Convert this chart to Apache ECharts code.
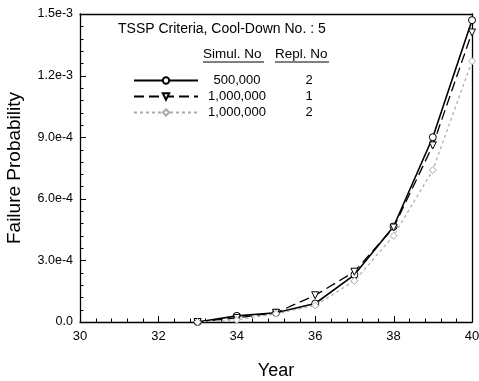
<!DOCTYPE html>
<html><head><meta charset="utf-8">
<script src="https://cdn.jsdelivr.net/npm/echarts@6/dist/echarts.min.js"></script>
<style>html,body{margin:0;padding:0;background:#fff}#c{width:479px;height:381px}</style>
</head><body><div id="c"></div>
<script>
const years = [33, 34, 35, 36, 37, 38, 39, 40];
const s1 = [0, 0.30e-4, 0.45e-4, 0.90e-4, 2.30e-4, 4.65e-4, 9.00e-4, 14.7e-4];
const s2 = [0, 0.20e-4, 0.45e-4, 1.30e-4, 2.45e-4, 4.60e-4, 8.60e-4, 14.1e-4];
const s3 = [0, 0.10e-4, 0.40e-4, 0.80e-4, 2.00e-4, 4.20e-4, 7.40e-4, 12.7e-4];
const simulNo = ['500,000', '1,000,000', '1,000,000'];
const replNo = ['2', '1', '2'];
const yTickLabels = {'0': '0.0', '0.0003': '3.0e-4', '0.0006': '6.0e-4', '0.0009': '9.0e-4', '0.0012': '1.2e-3', '0.0015': '1.5e-3'};
const names = simulNo.map((s, i) => s + ' / ' + replNo[i]);

const chart = echarts.init(document.getElementById('c'));
const FONT = 'Liberation Sans, Arial, sans-serif';
const X_MIN = 30, X_MAX = 40, X_INT = 2, Y_MIN = 0, Y_MAX = 0.0015, Y_INT = 0.0003, MINOR_SPLIT = 5;
function mk(vals) { return years.map((y, i) => [y, vals[i]]); }
const frameAxis = {
  show: true, axisLine: {show: true, onZero: false, lineStyle: {color: '#000', width: 1.3}},
  axisTick: {show: false}, minorTick: {show: false}, axisLabel: {show: false}, splitLine: {show: false}
};
const baseGraphic = [
  {type: 'text', left: 118, top: 22, style: {text: 'TSSP Criteria, Cool-Down No. : 5', font: '14px ' + FONT, fill: '#000'}},
  {type: 'text', left: 203, top: 47, style: {text: 'Simul. No', font: '13.5px ' + FONT, fill: '#000'}},
  {type: 'line', shape: {x1: 203, y1: 62, x2: 264, y2: 62}, style: {stroke: '#000', lineWidth: 1}},
  {type: 'text', left: 275, top: 47, style: {text: 'Repl. No', font: '13.5px ' + FONT, fill: '#000'}},
  {type: 'line', shape: {x1: 275, y1: 62, x2: 329, y2: 62}, style: {stroke: '#000', lineWidth: 1}}
];
chart.setOption({
  animation: false,
  textStyle: {fontFamily: FONT},
  grid: {left: 80, right: 7, top: 14, bottom: 59, show: false, outerBoundsMode: 'none', containLabel: false},
  xAxis: [{
    type: 'value', min: X_MIN, max: X_MAX, interval: X_INT, position: 'bottom',
    name: 'Year', nameLocation: 'middle', nameGap: 40,
    nameTextStyle: {fontSize: 18, color: '#000', fontFamily: FONT},
    axisLine: {show: true, onZero: false, lineStyle: {color: '#000', width: 1.3}},
    axisTick: {show: false}, minorTick: {show: false},
    axisLabel: {show: true, fontSize: 13, color: '#000', margin: 8},
    splitLine: {show: false}, minorSplitLine: {show: false}
  }, Object.assign({type: 'value', min: X_MIN, max: X_MAX, interval: X_INT, position: 'top'}, frameAxis)],
  yAxis: [{
    type: 'value', min: Y_MIN, max: Y_MAX, interval: Y_INT, position: 'left',
    name: 'Failure Probability', nameLocation: 'middle', nameGap: 56,
    nameTextStyle: {fontSize: 19, color: '#000', fontFamily: FONT},
    axisLine: {show: true, onZero: false, lineStyle: {color: '#000', width: 1.3}},
    axisTick: {show: false}, minorTick: {show: false},
    axisLabel: {show: true, fontSize: 12.5, color: '#000', margin: 7,
      formatter: v => { const k = String(+v.toPrecision(6)); return yTickLabels[k] !== undefined ? yTickLabels[k] : ''; }},
    splitLine: {show: false}, minorSplitLine: {show: false}
  }, Object.assign({type: 'value', min: Y_MIN, max: Y_MAX, interval: Y_INT, position: 'right'}, frameAxis)],
  legend: {
    left: 128, top: 69, orient: 'vertical', itemWidth: 64, itemHeight: 8, itemGap: 3,
    data: names,
    formatter: name => {
      const i = names.indexOf(name);
      return '{a|' + simulNo[i] + '}{b|' + replNo[i] + '}';
    },
    textStyle: {rich: {
      a: {width: 68, align: 'right', fontSize: 13, color: '#000', fontFamily: FONT},
      b: {width: 76, align: 'center', fontSize: 13, color: '#000', fontFamily: FONT}
    }}
  },
  graphic: baseGraphic,
  series: [
    {name: names[0], type: 'line', data: mk(s1), symbol: 'circle', symbolSize: 7,
     itemStyle: {color: '#fff', borderColor: '#000', borderWidth: 1},
     lineStyle: {color: '#000', width: 1.6}},
    {name: names[1], type: 'line', data: mk(s2), symbol: 'triangle', symbolRotate: 180, symbolSize: 7,
     itemStyle: {color: '#fff', borderColor: '#000', borderWidth: 1},
     lineStyle: {color: '#000', width: 1.3, type: [10, 5]}},
    {name: names[2], type: 'line', data: mk(s3), symbol: 'diamond', symbolSize: 7,
     itemStyle: {color: '#fff', borderColor: '#aaa', borderWidth: 1},
     lineStyle: {color: '#aaa', width: 1.2, type: [3, 3]}}
  ]
});
// inward major/minor ticks placed through the axes' own scales
const tickEls = [];
const x0 = chart.convertToPixel({xAxisIndex: 0}, X_MIN);
const y0 = chart.convertToPixel({yAxisIndex: 0}, Y_MIN);
const nX = Math.round((X_MAX - X_MIN) / X_INT) * MINOR_SPLIT;
for (let i = 1; i < nX; i++) {
  const v = X_MIN + i * X_INT / MINOR_SPLIT;
  const p = Math.round(chart.convertToPixel({xAxisIndex: 0}, v)) + 0.5;
  const len = i % MINOR_SPLIT === 0 ? 6 : 3.5;
  tickEls.push({type: 'line', silent: true, shape: {x1: p, y1: y0, x2: p, y2: y0 - len}, style: {stroke: '#000', lineWidth: 1}});
}
const nY = Math.round((Y_MAX - Y_MIN) / Y_INT) * MINOR_SPLIT;
for (let i = 1; i < nY; i++) {
  const v = Y_MIN + i * Y_INT / MINOR_SPLIT;
  const p = Math.round(chart.convertToPixel({yAxisIndex: 0}, v)) + 0.5;
  const len = i % MINOR_SPLIT === 0 ? 6 : 3.5;
  tickEls.push({type: 'line', silent: true, shape: {x1: x0, y1: p, x2: x0 + len, y2: p}, style: {stroke: '#000', lineWidth: 1}});
}
chart.setOption({graphic: baseGraphic.concat(tickEls)});
</script></body></html>
